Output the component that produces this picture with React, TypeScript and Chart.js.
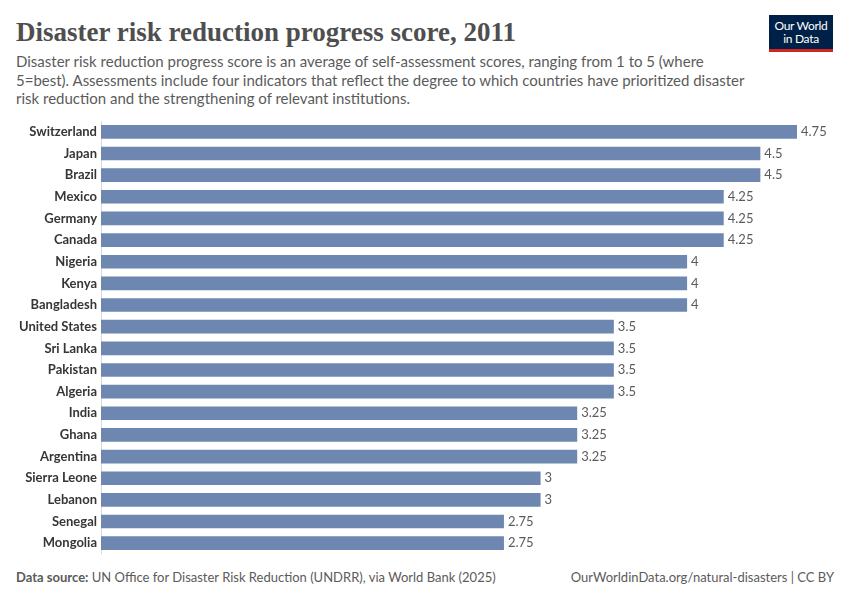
import React, { useEffect, useRef } from "react";
import { Chart, registerables } from "chart.js";

Chart.register(...registerables);

const countries = [
  "Switzerland", "Japan", "Brazil", "Mexico", "Germany", "Canada", "Nigeria", "Kenya",
  "Bangladesh", "United States", "Sri Lanka", "Pakistan", "Algeria", "India", "Ghana",
  "Argentina", "Sierra Leone", "Lebanon", "Senegal", "Mongolia",
];
const scores = [
  4.75, 4.5, 4.5, 4.25, 4.25, 4.25, 4, 4, 4, 3.5, 3.5, 3.5, 3.5, 3.25, 3.25, 3.25, 3, 3, 2.75, 2.75,
];

const titleText = "Disaster risk reduction progress score, 2011";
const subtitleText =
  "Disaster risk reduction progress score is an average of self-assessment scores, ranging from 1 to 5 (where 5=best). Assessments include four indicators that reflect the degree to which countries have prioritized disaster risk reduction and the strengthening of relevant institutions.";
const sourceLabel = "Data source:";
const sourceText = " UN Office for Disaster Risk Reduction (UNDRR), via World Bank (2025)";
const creditText = "OurWorldinData.org/natural-disasters | CC BY";

const barColor = "#6d87b0";

const valueLabels = {
  id: "valueLabels",
  afterDatasetsDraw(chart: any) {
    const ctx = chart.ctx;
    const meta = chart.getDatasetMeta(0);
    ctx.save();
    ctx.font = "13px Lato";
    ctx.fillStyle = "#5b5b5b";
    ctx.textAlign = "left";
    ctx.textBaseline = "middle";
    meta.data.forEach((bar: any, i: number) => {
      ctx.fillText(String(scores[i]), bar.x + 4, bar.y);
    });
    ctx.restore();
  },
};

export default function App() {
  const ref = useRef<HTMLCanvasElement | null>(null);

  useEffect(() => {
    if (!ref.current) return;
    const chart = new Chart(ref.current, {
      type: "bar",
      data: {
        labels: countries,
        datasets: [
          {
            data: scores,
            backgroundColor: barColor,
            borderWidth: 0,
            categoryPercentage: 1,
            barPercentage: 0.63,
          },
        ],
      },
      options: {
        indexAxis: "y",
        animation: false,
        responsive: false,
        maintainAspectRatio: false,
        layout: { padding: { left: 0, right: 53, top: 0, bottom: 0 } },
        plugins: {
          legend: { display: false },
          tooltip: { enabled: false },
        },
        scales: {
          x: {
            display: false,
            min: 0,
            max: 4.75,
          },
          y: {
            afterFit: (scale: any) => {
              scale.width = 101;
              scale.paddingTop = 0;
              scale.paddingBottom = 0;
            },
            grid: { display: false, drawTicks: false },
            border: { display: true, color: "#d9d9d9", width: 1 },
            ticks: {
              padding: 4,
              color: "#363636",
              font: { family: "Lato", size: 13, weight: "700" },
            },
          },
        },
      },
      plugins: [valueLabels],
    });
    return () => chart.destroy();
  }, []);

  return (
    <div
      style={{
        position: "absolute",
        left: 0,
        top: 0,
        width: 850,
        height: 600,
        background: "#fff",
        fontFamily: "Lato, sans-serif",
      }}
    >
      <div
        style={{
          position: "absolute",
          left: 16,
          top: 16,
          fontFamily: "'Liberation Serif', serif",
          fontWeight: 700,
          fontSize: 27,
          lineHeight: "32px",
          color: "#4e4e4e",
          whiteSpace: "nowrap",
        }}
      >
        {titleText}
      </div>
      <div
        style={{
          position: "absolute",
          left: 16,
          top: 52,
          width: 740,
          fontSize: 15,
          lineHeight: "18.5px",
          color: "#5b5b5b",
        }}
      >
        {subtitleText}
      </div>
      <div
        style={{
          position: "absolute",
          left: 769,
          top: 15,
          width: 64,
          height: 37,
          background: "#002147",
          borderBottom: "3px solid #ce261e",
          boxSizing: "border-box",
          color: "#fff",
          fontSize: 12,
          lineHeight: "13px",
          textAlign: "center",
          paddingTop: 4,
          letterSpacing: -0.3,
        }}
      >
        Our World
        <br />
        in Data
      </div>
      <canvas
        ref={ref}
        width={850}
        height={433}
        style={{ position: "absolute", left: 0, top: 121, width: 850, height: 433 }}
      />
      <div
        style={{
          position: "absolute",
          left: 16,
          top: 569,
          fontSize: 13,
          lineHeight: "16px",
          color: "#5b5b5b",
          whiteSpace: "nowrap",
        }}
      >
        <span style={{ fontWeight: 700 }}>{sourceLabel}</span>
        {sourceText}
      </div>
      <div
        style={{
          position: "absolute",
          right: 16,
          top: 569,
          fontSize: 13,
          lineHeight: "16px",
          color: "#5b5b5b",
          whiteSpace: "nowrap",
        }}
      >
        {creditText}
      </div>
    </div>
  );
}
